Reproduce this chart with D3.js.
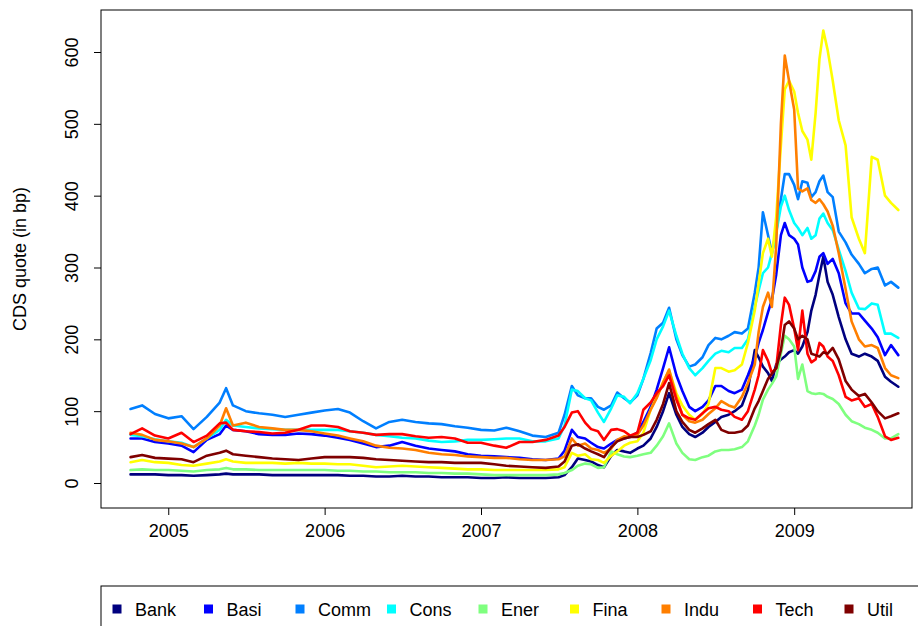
<!DOCTYPE html>
<html>
<head>
<meta charset="utf-8">
<script src="https://cdn.jsdelivr.net/npm/d3@7/dist/d3.min.js"></script>
<style>
  body { margin: 0; background: #ffffff; }
  svg { display: block; }
  text { font-family: "Liberation Sans", Arial, Helvetica, sans-serif; fill: #000; }
</style>
</head>
<body>
<svg id="chart" width="918" height="626"></svg>
<script>
// Observation dates shared by all sector series
const dates = [
  "2004-10-05","2004-11-01","2004-12-01",
  "2005-01-01","2005-02-01","2005-03-01","2005-04-01","2005-05-01","2005-05-16","2005-06-01","2005-07-01","2005-08-01","2005-09-01","2005-10-01","2005-11-01","2005-12-01",
  "2006-01-01","2006-02-01","2006-03-01","2006-04-01","2006-05-01","2006-06-01","2006-07-01","2006-08-01","2006-09-01","2006-10-01","2006-11-01","2006-12-01",
  "2007-01-01","2007-02-01","2007-03-01","2007-04-01","2007-05-01","2007-06-01",
  "2007-07-01","2007-07-15","2007-08-01","2007-08-15","2007-09-01","2007-09-15","2007-10-01","2007-10-15","2007-11-01","2007-11-15","2007-12-01","2007-12-15",
  "2008-01-01","2008-01-15","2008-02-01","2008-02-15","2008-03-01","2008-03-15","2008-04-01","2008-04-15","2008-05-01","2008-05-15","2008-06-01","2008-06-15","2008-07-01","2008-07-15","2008-08-01","2008-08-15","2008-09-01","2008-09-15",
  "2008-10-01","2008-10-10","2008-10-20","2008-11-01","2008-11-10","2008-11-20","2008-12-01","2008-12-10","2008-12-20",
  "2009-01-01","2009-01-10","2009-01-20","2009-02-01","2009-02-10","2009-02-20","2009-03-01","2009-03-10","2009-03-20",
  "2009-04-01","2009-04-15","2009-05-01","2009-05-15","2009-06-01","2009-06-15","2009-07-01","2009-07-15","2009-08-01","2009-08-15","2009-09-01"
];

// CDS quotes (bp) per sector
const bank = [
  12,12,12, 11,11,10,11,12,13,12,12,12,11,11,11,11, 11,11,10,10,9,9,10,9,9,8,8,8, 7,7,8,7,7,7,
  8,11,22,34,32,30,25,22,38,46,44,42,
  48,52,62,78,100,125,95,78,68,64,70,78,85,92,95,100,108,130,
  185,175,162,153,142,165,172,176,182,185,180,190,210,240,262,290,315,280,
  262,231,200,180,176,180,176,170,148,141,134
];
const basi = [
  62,62,57, 55,52,43,60,68,80,74,72,68,67,67,69,68, 66,63,60,55,50,52,57,52,48,46,44,40, 38,37,36,35,33,32,
  34,45,74,64,62,56,50,48,55,60,62,64,
  70,85,106,130,160,189,150,128,106,100,106,115,135,135,128,125,130,150,
  175,195,213,238,255,290,345,362,345,340,332,300,280,282,295,315,320,305,
  312,292,250,236,236,226,215,203,178,192,178
];
const comm = [
  103,108,96, 90,93,75,92,112,132,108,100,97,95,92,95,98, 101,103,98,86,76,85,88,85,83,82,79,77, 74,73,77,72,66,64,
  70,95,135,122,118,118,106,102,108,126,118,112,
  122,145,181,215,223,244,200,178,162,165,175,192,202,200,205,210,208,215,
  265,300,377,345,320,350,395,430,430,415,395,420,418,398,405,420,428,405,
  398,350,335,318,305,292,298,300,275,280,272
];
const cons = [
  67,65,61, 58,56,50,62,74,88,80,78,76,75,74,74,74, 74,74,72,70,67,65,63,62,59,57,58,60, 60,61,62,62,58,58,
  62,80,130,128,118,115,98,85,104,122,120,111,
  125,145,171,200,218,240,205,180,160,150,160,170,180,184,182,188,188,200,
  245,268,292,300,320,348,385,400,380,362,355,345,355,340,345,368,375,362,
  352,325,295,265,243,242,250,248,208,208,202
];
const ener = [
  18,19,18, 18,17,16,18,19,21,19,19,18,18,18,18,18, 18,17,17,16,16,15,15,15,14,14,13,13, 12,11,11,11,11,11,
  12,14,18,24,27,26,21,22,44,40,37,36,
  38,40,42,52,65,83,55,42,33,32,36,38,44,46,46,47,50,58,
  80,95,116,130,138,148,180,205,200,190,145,165,128,125,124,125,124,120,
  117,110,95,86,82,77,74,70,62,62,68
];
const fina = [
  29,32,29, 28,25,24,27,30,33,30,28,28,28,27,28,27, 27,26,26,24,22,23,24,23,22,21,20,19, 19,18,18,18,18,18,
  19,22,42,38,40,33,32,28,38,44,52,56,
  58,70,102,120,140,157,125,108,95,88,96,110,160,160,155,157,165,195,
  240,278,320,340,315,370,470,548,560,545,515,490,478,450,515,590,630,603,
  560,505,470,370,340,320,454,450,400,390,380
];
const indu = [
  70,67,60, 58,55,50,62,80,104,80,84,78,76,74,74,72, 69,66,62,58,52,49,48,46,42,40,39,37, 36,35,35,33,32,32,
  33,37,62,52,55,48,46,42,48,60,65,64,
  67,80,102,118,140,158,120,95,86,84,88,96,104,114,108,105,120,139,
  165,210,245,265,245,330,500,595,560,520,410,406,410,394,390,395,388,378,
  358,320,270,225,200,190,192,188,160,150,146
];
const tech = [
  68,76,66, 62,70,57,66,83,84,74,72,71,69,70,74,80, 80,78,72,70,67,68,68,65,63,64,62,56, 56,52,49,57,57,60,
  66,78,98,100,84,75,72,60,74,75,72,66,
  70,102,112,125,135,150,116,95,90,88,97,104,106,102,100,92,88,100,
  130,150,185,170,153,160,220,258,248,215,185,240,180,168,172,195,190,176,
  170,150,120,115,118,106,110,92,65,60,63
];
const util = [
  36,39,35, 34,33,29,38,42,45,40,38,36,34,33,32,34, 36,36,36,35,33,32,31,30,29,29,28,28, 28,26,24,23,22,21,
  23,30,52,54,48,44,40,36,50,58,62,64,
  64,67,72,88,110,139,100,85,74,70,76,82,88,74,70,70,72,80,
  104,114,128,145,152,160,185,220,225,215,200,205,200,180,178,176,182,180,
  188,172,142,130,121,124,112,100,90,93,97
];

const sectorNames = ["Bank","Basi","Comm","Cons","Ener","Fina","Indu","Tech","Util"];
const sectorValues = [bank, basi, comm, cons, ener, fina, indu, tech, util];
const sectorColors = ["#00007F","#0000FF","#007FFF","#00FFFF","#7FFF7F","#FFFF00","#FF7F00","#FF0000","#7F0000"];

const yTickValues = [0, 100, 200, 300, 400, 500, 600];
const xTickLabels = ["2005", "2006", "2007", "2008", "2009"];
const yAxisTitle = "CDS quote (in bp)";

// ---- layout ----
const plot = { left: 101, right: 912, top: 10, bottom: 508 };
const parseDate = d3.timeParse("%Y-%m-%d");

const svg = d3.select("#chart");

const x = d3.scaleTime()
  .domain([parseDate("2004-07-28"), parseDate("2009-10-03")])
  .range([plot.left, plot.right]);

const y = d3.scaleLinear()
  .domain([0, 600])
  .range([483, 52]);

// ---- series lines ----
const line = d3.line()
  .x(d => x(d.date))
  .y(d => y(d.value));

const parsedDates = dates.map(parseDate);

sectorNames.forEach((name, i) => {
  const pts = parsedDates.map((dt, j) => ({ date: dt, value: sectorValues[i][j] }));
  svg.append("path")
    .datum(pts)
    .attr("fill", "none")
    .attr("stroke", sectorColors[i])
    .attr("stroke-width", 2.6)
    .attr("stroke-linejoin", "round")
    .attr("stroke-linecap", "round")
    .attr("d", line);
});

// ---- plot frame ----
svg.append("rect")
  .attr("x", plot.left).attr("y", plot.top)
  .attr("width", plot.right - plot.left)
  .attr("height", plot.bottom - plot.top)
  .attr("fill", "none").attr("stroke", "#000").attr("stroke-width", 1);

// ---- y axis ----
const yAxis = d3.axisLeft(y).tickValues(yTickValues).tickSize(7).tickPadding(0);
const gy = svg.append("g").attr("transform", `translate(${plot.left},0)`).call(yAxis);
gy.select(".domain").remove();
gy.selectAll(".tick line").attr("stroke", "#000");
gy.selectAll(".tick text")
  .attr("x", 0).attr("y", 0).attr("dy", 0)
  .attr("text-anchor", "middle")
  .attr("transform", "translate(-23,0) rotate(-90)")
  .style("font-size", "18px")
  .style("font-family", '"Liberation Sans", Arial, sans-serif');

// ---- x axis ----
const xAxis = d3.axisBottom(x)
  .tickValues(xTickLabels.map(s => parseDate(s + "-01-01")))
  .tickFormat(d3.timeFormat("%Y"))
  .tickSize(7).tickPadding(0);
const gx = svg.append("g").attr("transform", `translate(0,${plot.bottom})`).call(xAxis);
gx.select(".domain").remove();
gx.selectAll(".tick line").attr("stroke", "#000");
gx.selectAll(".tick text")
  .attr("y", 29).attr("dy", 0)
  .style("font-size", "18px")
  .style("font-family", '"Liberation Sans", Arial, sans-serif');

// ---- axis title ----
svg.append("text")
  .attr("transform", `translate(26,${(plot.top + plot.bottom) / 2}) rotate(-90)`)
  .attr("text-anchor", "middle")
  .style("font-size", "18px")
  .text(yAxisTitle);

// ---- legend ----
const legend = svg.append("g");
legend.append("rect")
  .attr("x", 101).attr("y", 586)
  .attr("width", 830).attr("height", 60)
  .attr("fill", "none").attr("stroke", "#000").attr("stroke-width", 1);

const legendX = d3.scalePoint().domain(sectorNames).range([117, 849]);
const items = legend.selectAll("g.item").data(sectorNames).join("g")
  .attr("class", "item")
  .attr("transform", d => `translate(${legendX(d)},609)`);
items.append("rect")
  .attr("x", -4.5).attr("y", -4.5).attr("width", 9).attr("height", 9)
  .attr("fill", (d, i) => sectorColors[i]);
items.append("text")
  .attr("x", 18).attr("y", 7)
  .style("font-size", "18px")
  .text(d => d);
</script>
</body>
</html>
